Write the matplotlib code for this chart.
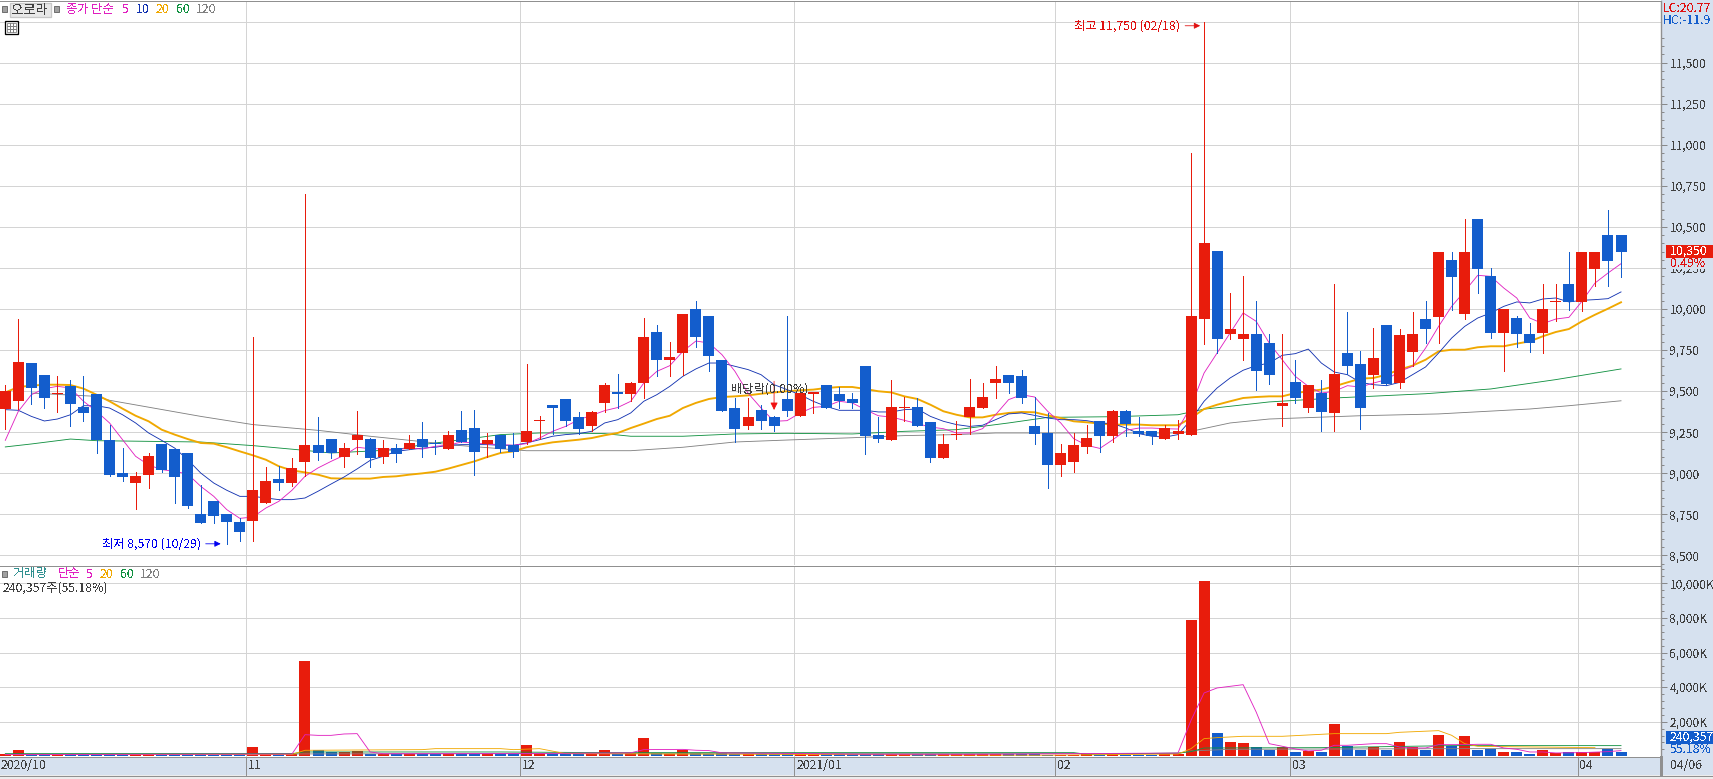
import matplotlib
matplotlib.use("Agg")
import matplotlib.pyplot as plt
from matplotlib.patches import Rectangle

plt.rcParams['font.family'] = ['Noto Sans CJK KR', 'DejaVu Sans']
plt.rcParams['text.antialiased'] = False

opens = [9390,9440,9670,9600,9480,9530,9405,9480,9200,9000,8940,8990,9180,9150,9120,8750,8830,8750,8705,8710,
         8820,8965,8940,9070,9170,9210,9100,9205,9210,9100,9155,9145,9210,9185,9145,9265,9275,9175,9230,9170,
         9190,9315,9415,9450,9340,9290,9430,9495,9485,9550,9860,9690,9735,10000,9960,9690,9400,9290,9385,9340,
         9450,9350,9485,9540,9480,9450,9650,9230,9205,9400,9405,9310,9090,9235,9345,9400,9550,9600,9590,9290,
         9245,9050,9070,9160,9320,9225,9380,9260,9260,9210,9240,9235,9940,10355,9845,9815,9850,9790,9410,9555,
         9400,9490,9365,9730,9665,9600,9900,9550,9740,9940,9950,10300,9970,10550,10200,9855,9945,9850,9855,10045,
         10150,10045,10245,10450,10450]
highs = [9540,9940,9670,9600,9590,9570,9590,9480,9295,9155,9010,9125,9180,9150,9120,8930,8830,8750,8725,9830,
         9040,9045,9095,10700,9340,9210,9185,9380,9215,9200,9180,9230,9310,9200,9260,9380,9385,9245,9230,9245,
         9665,9350,9415,9450,9370,9380,9550,9605,9555,9945,9900,9800,9970,10050,9960,9690,9460,9460,9415,9350,
         9960,9510,9495,9540,9525,9490,9650,9340,9570,9465,9460,9310,9240,9320,9575,9550,9650,9600,9630,9465,
         9365,9180,9245,9295,9320,9385,9385,9340,9260,9295,9325,10950,11750,10355,10100,10200,10050,9850,9850,9690,
         9540,9570,10150,9980,9745,9885,9900,9880,9980,10050,10350,10350,10550,10550,10250,10000,9960,9915,10150,10150,
         10350,10350,10350,10600,10450]
lows = [9270,9390,9420,9400,9375,9290,9320,9120,8985,8950,8780,8910,9005,8820,8790,8695,8695,8570,8590,8590,
        8820,8900,8925,8980,9080,9090,9040,9115,9040,9065,9070,9145,9100,9115,9145,9190,8990,9100,9130,9100,
        9175,9210,9240,9290,9240,9260,9375,9400,9440,9460,9595,9595,9600,9770,9625,9380,9190,9270,9270,9260,
        9350,9350,9365,9395,9400,9395,9115,9190,9205,9315,9290,9070,9090,9210,9240,9400,9460,9490,9430,9175,
        8910,8980,9010,9120,9130,9190,9225,9225,9175,9210,9210,9235,9785,9735,9815,9690,9505,9545,9290,9425,
        9375,9255,9260,9605,9270,9520,9535,9520,9655,9795,9795,9995,9940,10095,9825,9625,9770,9740,9735,9925,
        9995,9985,10140,10140,10195]
closes = [9500,9680,9520,9460,9490,9420,9365,9205,8990,8975,8985,9105,9020,8975,8800,8695,8740,8700,8640,8900,
          8955,8940,9030,9170,9125,9120,9155,9230,9090,9155,9115,9185,9160,9175,9230,9190,9130,9200,9150,9130,
          9260,9325,9395,9320,9270,9370,9540,9485,9550,9830,9690,9710,9970,9830,9715,9380,9270,9340,9315,9285,
          9380,9490,9495,9400,9440,9430,9225,9210,9405,9405,9290,9090,9180,9240,9405,9465,9575,9550,9460,9240,
          9050,9120,9170,9215,9225,9380,9300,9240,9225,9275,9260,9960,10400,9815,9880,9850,9625,9600,9430,9460,
          9540,9375,9605,9655,9400,9700,9545,9840,9850,9880,10350,10195,10350,10245,9855,10000,9845,9795,10000,10050,
          10045,10350,10350,10295,10350]

ma5 = [9200,9377,9478,9515,9529,9519,9438,9377,9306,9204,9103,9050,9022,9011,8995,8920,8859,8778,8725,8733,
       8788,8829,8896,8981,9032,9072,9109,9158,9149,9149,9143,9153,9147,9164,9170,9190,9184,9178,9174,9170,
       9180,9214,9255,9285,9326,9352,9381,9400,9438,9549,9620,9655,9742,9805,9793,9722,9620,9488,9397,9316,
       9320,9367,9401,9407,9438,9428,9387,9350,9342,9322,9302,9281,9271,9245,9245,9271,9356,9448,9478,9464,
       9377,9306,9210,9170,9151,9204,9261,9275,9275,9271,9269,9407,9610,9732,9854,9976,9925,9793,9691,9590,
       9529,9488,9499,9533,9525,9549,9570,9620,9651,9762,9894,10016,10108,10205,10199,10128,10067,9945,9911,9939,
       9949,10047,10158,10219,10276]
ma10 = [9387,9383,9346,9318,9330,9356,9411,9411,9397,9356,9306,9245,9200,9153,9082,9001,8940,8896,8859,8859,
        8849,8839,8839,8849,8890,8934,8977,9026,9078,9103,9133,9143,9153,9158,9170,9174,9174,9174,9170,9170,
        9184,9204,9225,9235,9241,9255,9306,9326,9367,9438,9478,9529,9590,9635,9671,9671,9651,9631,9600,9539,
        9509,9478,9438,9407,9383,9383,9383,9373,9373,9387,9391,9346,9316,9296,9285,9292,9326,9361,9367,9352,
        9336,9326,9326,9320,9306,9302,9275,9241,9225,9220,9235,9326,9438,9519,9580,9627,9655,9671,9718,9728,
        9756,9671,9616,9600,9553,9539,9533,9553,9600,9647,9732,9823,9894,9945,9976,10016,10043,10037,10061,10067,
        10043,10053,10057,10063,10104]
ma20 = [9492,9525,9533,9539,9539,9537,9515,9478,9438,9393,9350,9316,9265,9235,9208,9184,9180,9158,9133,9109,
        9082,9042,9017,9005,8991,8969,8967,8967,8967,8977,8981,8991,8999,9009,9028,9050,9072,9099,9123,9133,
        9158,9174,9188,9196,9204,9214,9231,9245,9275,9302,9330,9350,9397,9428,9452,9464,9468,9474,9484,9492,
        9499,9505,9509,9519,9525,9525,9513,9499,9492,9468,9452,9417,9377,9356,9340,9340,9356,9367,9373,9371,
        9352,9336,9316,9310,9302,9296,9296,9296,9292,9292,9292,9336,9391,9417,9438,9458,9464,9468,9468,9488,
        9499,9509,9529,9553,9576,9580,9600,9631,9655,9691,9742,9752,9752,9767,9773,9773,9789,9803,9834,9860,
        9878,9925,9965,10002,10041]

ma60_idx = [0,2,5,7,15,19,23,25,30,32,36,38,41,43,46,48,52,56,60,65,69,73,77,80,85,90,92,97,102,109,114,119,124]
ma60_val = [9160,9178,9208,9198,9190,9168,9139,9123,9143,9174,9214,9235,9245,9245,9241,9225,9225,9239,9243,9239,
            9255,9265,9306,9340,9344,9356,9390,9434,9458,9484,9513,9570,9635]
ma120_idx = [2,7,8,15,19,24,28,33,34,40,48,52,56,60,65,69,73,76,90,91,94,97,104,110,117,120,124]
ma120_val = [9488,9468,9444,9346,9296,9261,9225,9184,9174,9137,9137,9158,9190,9202,9216,9229,9235,9245,9245,9255,
             9306,9330,9350,9361,9391,9411,9441]

volumes = [120,347,150,120,130,120,120,130,110,100,110,110,100,110,120,110,100,110,110,520,
           120,110,120,5490,350,250,250,300,140,130,130,120,110,110,130,120,150,120,110,110,
           640,160,150,130,140,120,347,130,170,1040,170,160,385,170,160,170,130,120,120,115,
           115,120,115,115,115,115,120,115,130,115,110,110,120,125,150,120,150,115,110,110,
           100,100,100,110,100,110,100,100,100,105,120,7862,10117,1330,809,751,520,347,520,231,
           308,270,1850,617,347,540,347,809,520,347,1214,578,1156,347,424,231,231,154,347,193,
           270,250,250,405,240]

vma5_idx = [0,22,23,24,25,26,27,28,29,40,48,49,52,53,54,55,60,66,74,90,91,92,93,95,96,97,98,99,100,101,102,103,105,106,107,108,109,110,112,113,114,115,116,117,118,119,121,123,124]
vma5_val = [100,130,1250,1210,1210,1290,1310,250,150,160,200,385,400,350,330,200,170,120,115,190,2080,3660,3950,4140,2560,730,580,425,310,347,636,636,730,730,540,480,480,674,674,694,694,480,405,250,250,193,212,270,328]
vma20_idx = [0,22,23,32,33,38,39,41,42,43,79,90,91,92,93,95,98,102,106,107,110,111,112,113,117,122]
vma20_val = [96,110,347,385,443,443,385,443,300,154,60,130,443,1021,1080,1156,1156,1310,1310,1387,1484,1214,732,578,540,500]
vma60_idx = [0,22,23,38,46,82,83,90,91,92,101,111,124]
vma60_val = [154,154,250,250,212,212,115,190,270,480,500,617,617]
vma120_idx = [0,40,82,90,91,94,112,124]
vma120_val = [115,154,154,154,308,405,443,443]

price_ticks = [8500,8750,9000,9250,9500,9750,10000,10250,10500,10750,11000,11250,11500]
price_grid = price_ticks + [11750]
price_minor = list(range(8450, 11700, 50))
vol_ticks = [2000,4000,6000,8000,10000]
vol_minor = list(range(400, 10900, 400))
month_pos = [18.5,39.52,60.55,80.58,98.6,120.67]
month_labels = ['11','12','2021/01','02','03','04']

W, H = 1713, 779
RED, BLUE = '#e81c0c', '#135dcc'
C5, C10, C20, C60, C120 = '#e020c0', '#1030b0', '#f0a800', '#109040', '#808080'
GRID, BAND, EDGE, TXT = '#d4d4d4', '#d6e1ef', '#909090', '#404040'
PX = 0.72
THIN = PX*0.8
CURVE = 0.62
SP, X0, RX = 13.03, 5.3, 1661.0
xlim = (-X0/SP, (RX-X0)/SP)
n = len(closes)
x = list(range(n))

fig = plt.figure(figsize=(W/100, H/100), dpi=100, facecolor='white')

def axes_px(l, t, r, b, **kw):
    return fig.add_axes([l/W, 1-b/H, (r-l)/W, (b-t)/H], **kw)

bg = axes_px(0, 0, W, H, zorder=0)
bg.set_xlim(0, W); bg.set_ylim(H, 0); bg.axis('off')
bg.add_patch(Rectangle((RX, 0), W-RX, 775, fc=BAND, ec='none'))
bg.add_patch(Rectangle((0, 757), RX, 18, fc=BAND, ec='none'))
bg.add_patch(Rectangle((0, 775), W, 4, fc='#ececec', ec='none'))
bg.plot([0, W], [775.5, 775.5], color=EDGE, lw=THIN, aa=False)

PY_T, PY_B = 1.0, 565.0
k = 41.05/250
ap = axes_px(0, PY_T, RX, PY_B, zorder=2)
ap.set_xlim(*xlim)
ap.set_ylim(10000-(PY_B-309)/k, 10000+(309-PY_T)/k)
VY_T, VY_B = 565.5, 757.0
kv = 34.6/2000
av = axes_px(0, VY_T, RX, VY_B, zorder=2)
av.set_xlim(*xlim)
av.set_ylim(-(VY_B-756.3)/kv, (756.3-VY_T)/kv)

for a in (ap, av):
    for s in ('left', 'bottom'):
        a.spines[s].set_visible(False)
    a.spines['top'].set_color(EDGE); a.spines['top'].set_linewidth(PX)
    a.spines['right'].set_color(EDGE); a.spines['right'].set_linewidth(PX*1.4)
    a.set_xticks([])
    a.yaxis.tick_right()
    a.vlines(month_pos, *a.get_ylim(), color=GRID, lw=THIN, zorder=1, antialiased=False)
    a.tick_params(axis='y', which='major', length=4.6, width=PX*0.9, color=C120, pad=1.6,
                  labelsize=8.6, labelcolor=TXT)
    a.tick_params(axis='y', which='minor', length=2.2, width=PX*0.9, color=C120)

ap.hlines(price_grid, *xlim, color=GRID, lw=THIN, zorder=1, antialiased=False)
av.hlines(vol_ticks, *xlim, color=GRID, lw=THIN, zorder=1, antialiased=False)
ap.set_yticks(price_ticks, [f'{v:,}' for v in price_ticks])
ap.set_yticks(price_minor, minor=True)
av.set_yticks(vol_ticks, [f'{v:,}K' for v in vol_ticks])
av.set_yticks(vol_minor, minor=True)

ap.plot(ma60_idx, ma60_val, color=C60, lw=CURVE, zorder=2)
ap.plot(ma120_idx, ma120_val, color=C120, lw=CURVE, zorder=2)
ap.plot(x, ma20, color=C20, lw=PX*1.9, zorder=2.1)
ap.plot(x, ma10, color=C10, lw=CURVE, zorder=2.2)
ap.plot(x, ma5, color=C5, lw=CURVE, zorder=2.3)

colors = [RED if c >= o else BLUE for o, c in zip(opens, closes)]
ap.vlines(x, lows, highs, colors=colors, lw=THIN, zorder=3, antialiased=False)
ap.bar(x, [abs(c-o) for o, c in zip(opens, closes)], bottom=[min(o, c) for o, c in zip(opens, closes)],
       width=11/SP, color=colors, lw=0, zorder=3.1)

def note(idx, val, label, color, gap):
    ap.annotate('', xy=(idx, val), xytext=(-15*PX, 0), textcoords='offset points',
                arrowprops=dict(arrowstyle='-|>', color=color, lw=THIN, shrinkA=0, shrinkB=0,
                                mutation_scale=9), zorder=6)
    ap.annotate(label, xy=(idx, val), xytext=(-gap*PX, 0), textcoords='offset points',
                ha='right', va='center', color=color, fontsize=8.8, zorder=6)

note(16.53, 8570, '최저 8,570 (10/29)', '#0000f0', 20)
note(91.7, 11725, '최고 11,750 (02/18)', '#e01010', 20)

ap.annotate('', xy=(59, 9385), xytext=(59, 9560), arrowprops=dict(arrowstyle='-|>', color='#f01010', lw=THIN,
            shrinkA=0, shrinkB=0, mutation_scale=11), zorder=5)
ap.text(59-0.3, 9515, '배당락(0.00%)', color=TXT, fontsize=8.8, ha='center', va='center', zorder=7)

av.bar(x, volumes, width=11/SP, color=colors, lw=0, zorder=3)
av.plot(vma120_idx, vma120_val, color=C120, lw=CURVE, zorder=4)
av.plot(vma60_idx, vma60_val, color=C60, lw=CURVE, zorder=4.1)
av.plot(vma20_idx, vma20_val, color=C20, lw=CURVE, zorder=4.2)
av.plot(vma5_idx, vma5_val, color=C5, lw=CURVE, zorder=4.3)

ov = axes_px(0, 0, W, H, zorder=5)
ov.set_xlim(0, W); ov.set_ylim(H, 0); ov.axis('off'); ov.patch.set_alpha(0)

def label(px, py, s, color=TXT, size=8.8, ha='left'):
    ov.text(px, py, s, color=color, fontsize=size, ha=ha, va='center', clip_on=False)

def square(px, py):
    ov.add_patch(Rectangle((px, py), 5, 6, fc='#a0a0a0', ec='#707070', lw=PX))

square(2, 6)
ov.add_patch(Rectangle((9.5, 2.5), 41, 14, fc='#e8e8e8', ec='#c8c8c8', lw=PX*1.3))
label(30, 9.5, '오로라', '#404040', 9.6, 'center')
square(54, 6)
label(66, 9, '종가 단순', C5)
label(122, 9, '5', C5)
label(136, 9, '10', C10)
label(156, 9, '20', C20)
label(176, 9, '60', C60)
label(196, 9, '120', C120)
ov.add_patch(Rectangle((4.5, 20.5), 13, 13, fc='white', ec='black', lw=PX*1.3))
ov.add_patch(Rectangle((6.5, 22.5), 9, 9, fc='none', ec='#808080', lw=THIN))
ov.plot([9.5, 9.5], [22.5, 31.5], color='#808080', lw=THIN, aa=False)
ov.plot([12.5, 12.5], [22.5, 31.5], color='#808080', lw=THIN, aa=False)
ov.plot([6.5, 15.5], [25.5, 25.5], color='#808080', lw=THIN, aa=False)
ov.plot([6.5, 15.5], [28.5, 28.5], color='#808080', lw=THIN, aa=False)

square(2, 571)
label(13, 574, '거래량', '#309090')
label(58, 574, '단순', C5)
label(86, 574, '5', C5)
label(99.5, 574, '20', C20)
label(120, 574, '60', C60)
label(140, 574, '120', C120)
label(3, 588, '240,357주(55.18%)')

label(1662.5, 8, 'LC:20.77', '#e01010')
label(1662.5, 20, 'HC:-11.9', BLUE)

ov.add_patch(Rectangle((1666, 245), W-1666, 13, fc=RED, ec='none'))
label(1670, 251, '10,350', 'white')
ov.add_patch(Rectangle((1666, 258), W-1666, 11, fc=BAND, ec='none'))
label(1670, 263.5, '0.49%', '#e01010')
ov.add_patch(Rectangle((1666, 731), W-1666, 13, fc=BLUE, ec='none'))
label(1670, 737.5, '240,357', 'white')
label(1670, 749.5, '55.18%', BLUE)

label(1, 765.5, '2020/10')
for p, s in zip(month_pos, month_labels):
    px = X0 + SP*p
    ov.plot([px, px], [757, 775], color=EDGE, lw=THIN, aa=False)
    label(px+2, 765.5, s)
ov.plot([RX, RX], [757, 775], color=EDGE, lw=PX*1.4, aa=False)
ov.plot([0, RX], [757, 757], color=EDGE, lw=THIN, aa=False)
label(1670, 765.5, '04/06')

fig.savefig('out.png', dpi=100, facecolor='white')
